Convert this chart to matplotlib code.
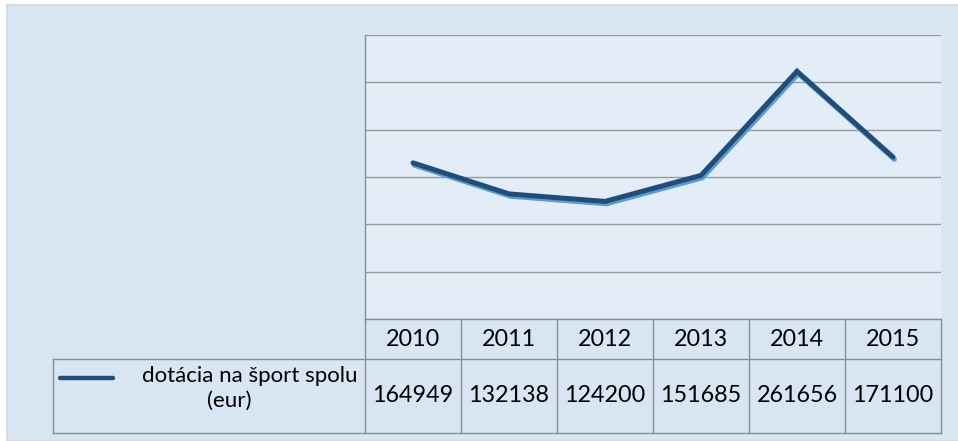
#!/usr/bin/env python3

import matplotlib
matplotlib.use('Agg')
import matplotlib.pyplot as plt
import matplotlib.patheffects as pe
from matplotlib.patches import Rectangle

# data
years = ['2010', '2011', '2012', '2013', '2014', '2015']
values = [164949, 132138, 124200, 151685, 261656, 171100]
series_label_1 = 'dotácia na šport spolu'
series_label_2 = '(eur)'

W, H = 958, 441
BG = '#D8E6F3'
PLOT_BG = '#E3EDF7'
LINE = '#1F4E79'
SHADOW = '#5B9BD5'
GRID = '#9A9A9A'
BORDER = '#8C8C8C'

plt.rcParams['font.family'] = ['Lato', 'DejaVu Sans']

fig = plt.figure(figsize=(W / 100, H / 100), dpi=100)
fig.patch.set_facecolor('white')

# outer chart area
fig.add_artist(Rectangle((7 / W, 0), 1, 1 - 5 / H, transform=fig.transFigure,
                         facecolor=BG, edgecolor='#DADADA', linewidth=1.5, zorder=-5))

# plot area in pixels: x 365..941, y 35..319
left, right, top, bottom = 365, 941, 35, 319
ax = fig.add_axes([left / W, 1 - bottom / H, (right - left) / W, (bottom - top) / H])
ax.set_facecolor(PLOT_BG)

x = list(range(len(years)))
ax.plot(x, values, color=LINE, linewidth=3.6, solid_capstyle='round', solid_joinstyle='miter',
        path_effects=[pe.SimpleLineShadow(offset=(1.0, -1.7), shadow_color=SHADOW, alpha=1.0),
                      pe.Normal()], zorder=3)

ax.set_xlim(-0.5, len(years) - 0.5)
ax.set_ylim(0, 300000)
ax.set_yticks(range(0, 300001, 50000))
ax.set_xticks([])
ax.tick_params(axis='y', length=0, labelleft=False)
ax.grid(axis='y', color=GRID, linewidth=1.0)
for s in ['top', 'right', 'bottom']:
    ax.spines[s].set_visible(False)
ax.spines['left'].set_color(BORDER)
ax.spines['left'].set_linewidth(1.0)

# data table below the plot (x in data units, y in axes units)
tr = ax.get_xaxis_transform()
ph = bottom - top
row1 = -40 / ph
row2 = -114 / ph
leg_left = -0.5 + (53 - left) / 96

def seg(x0, x1, y0, y1):
    ax.plot([x0, x1], [y0, y1], color=BORDER, linewidth=1.0, transform=tr,
            clip_on=False, zorder=4)

# header row
seg(-0.5, len(years) - 0.5, 0, 0)
seg(leg_left, len(years) - 0.5, row1, row1)
seg(leg_left, len(years) - 0.5, row2, row2)
seg(leg_left, leg_left, row1, row2)
for i in range(len(years) + 1):
    seg(i - 0.5, i - 0.5, 0, row2)

fs = 16.8
for i, (yr, v) in enumerate(zip(years, values)):
    ax.text(i, row1 / 2, yr, ha='center', va='center', fontsize=fs, color='black',
            transform=tr, clip_on=False)
    ax.text(i, (row1 + row2) / 2, str(v), ha='center', va='center', fontsize=fs,
            color='black', transform=tr, clip_on=False)

# legend key + label
ky = row1 - 19 / ph
ax.plot([-0.5 + (60 - left) / 96, -0.5 + (113 - left) / 96], [ky, ky], color=LINE,
        linewidth=3.2, solid_capstyle='round', transform=tr, clip_on=False, zorder=5)
ax.text(-0.5 + (357 - left) / 96, row1 - 17 / ph, series_label_1, ha='right', va='center',
        fontsize=16, color='black', transform=tr, clip_on=False)
ax.text(-0.5 + (229 - left) / 96, row1 - 42 / ph, series_label_2, ha='center', va='center',
        fontsize=16, color='black', transform=tr, clip_on=False)

fig.savefig('out.png', dpi=100, facecolor=fig.get_facecolor())
